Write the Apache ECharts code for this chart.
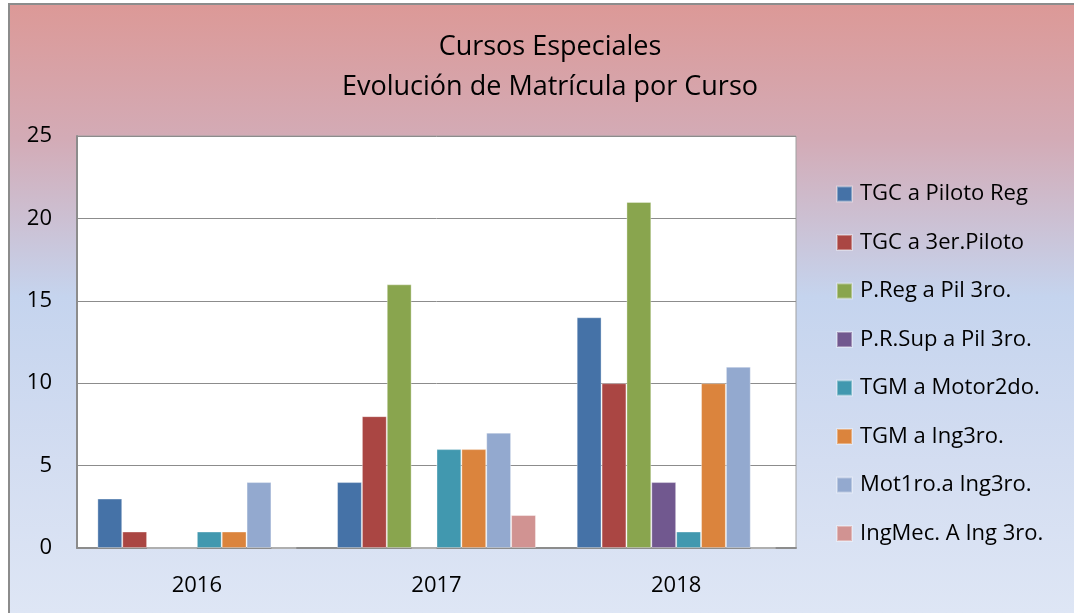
<!DOCTYPE html>
<html>
<head>
    <meta charset="utf-8">
    <title>Cursos Especiales</title>
    <script src="https://cdn.jsdelivr.net/npm/echarts@6/dist/echarts.min.js"></script>
    <style>
        html, body {
            margin: 0;
            padding: 0;
            background: #ffffff;
        }

        .fondo {
            position: absolute;
            left: 8px;
            top: 3px;
            right: 0;
            bottom: 0;
            border-left: 2px solid #8c8c8c;
            border-top: 2px solid #8c8c8c;
            background: linear-gradient(to bottom, #dc9997 0%, #d3abb6 22%, #c5d4ee 48%, #d3ddf1 75%, #dee6f5 100%);
        }

        #grafico {
            position: absolute;
            left: 0;
            top: 0;
            width: 1074px;
            height: 613px;
        }
    </style>
</head>
<body>
<div class="fondo"></div>
<div id="grafico"></div>
<script>
    var anios = ['2016', '2017', '2018'];

    var cursos = ['TGC a Piloto Reg', 'TGC a 3er.Piloto', 'P.Reg a Pil 3ro.', 'P.R.Sup a Pil 3ro.',
        'TGM a Motor2do.', 'TGM a Ing3ro.', 'Mot1ro.a Ing3ro.', 'IngMec. A Ing 3ro.'];

    var colores = ['#4572a7', '#aa4643', '#89a54e', '#71588f', '#4198af', '#db843d', '#93a9cf', '#d19392'];

    // matricula por curso, un array por curso (2016, 2017, 2018)
    var tgcPilotoReg = [3, 4, 14];
    var tgc3erPiloto = [1, 8, 10];
    var pRegPil3ro = [0, 16, 21];
    var pRSupPil3ro = [0, 0, 4];
    var tgmMotor2do = [1, 6, 1];
    var tgmIng3ro = [1, 6, 10];
    var mot1roIng3ro = [4, 7, 11];
    var ingMecIng3ro = [0, 2, 0];

    var valores = [tgcPilotoReg, tgc3erPiloto, pRegPil3ro, pRSupPil3ro,
        tgmMotor2do, tgmIng3ro, mot1roIng3ro, ingMecIng3ro];

    var ticksY = [0, 5, 10, 15, 20, 25];

    var fuente = '"Open Sans", "Noto Sans", sans-serif';

    var series = [];
    for (var i = 0; i < cursos.length; i++) {
        series.push({
            name: cursos[i],
            type: 'bar',
            barGap: '0%',
            barCategoryGap: '17%',
            itemStyle: {
                color: colores[i],
                borderColor: 'rgba(255,255,255,0.35)',
                borderWidth: 1
            },
            data: valores[i]
        });
    }

    var chart = echarts.init(document.getElementById('grafico'));

    var option = {
        backgroundColor: 'transparent',
        animation: false,
        title: {
            text: 'Cursos Especiales\nEvolución de Matrícula por Curso',
            left: 545,
            textAlign: 'center',
            top: 22,
            textStyle: {
                fontFamily: fuente,
                fontSize: 27,
                fontWeight: 'normal',
                color: '#000',
                lineHeight: 40
            }
        },
        legend: {
            orient: 'vertical',
            left: 836,
            top: 183,
            padding: 0,
            itemWidth: 15,
            itemHeight: 15,
            itemGap: 26.5,
            icon: 'rect',
            data: cursos,
            textStyle: {
                fontFamily: fuente,
                fontSize: 22,
                color: '#000',
                padding: [0, 0, 0, 3]
            }
        },
        grid: {
            left: 77,
            right: 278,
            top: 136,
            bottom: 65,
            show: true,
            backgroundColor: '#ffffff',
            borderColor: '#a0a0a0',
            borderWidth: 1
        },
        xAxis: {
            type: 'category',
            data: anios,
            axisLine: {lineStyle: {color: '#8c8c8c', width: 2}},
            axisTick: {show: false},
            axisLabel: {
                margin: 27,
                fontFamily: fuente,
                fontSize: 22,
                color: '#000'
            }
        },
        yAxis: {
            type: 'value',
            min: ticksY[0],
            max: ticksY[ticksY.length - 1],
            interval: 5,
            axisLine: {show: true, lineStyle: {color: '#8c8c8c', width: 2}},
            axisTick: {show: false},
            splitLine: {lineStyle: {color: '#8c8c8c', width: 1}},
            axisLabel: {
                margin: 25,
                fontFamily: fuente,
                fontSize: 22,
                color: '#000'
            }
        },
        series: series
    };

    chart.setOption(option);
</script>
</body>
</html>
